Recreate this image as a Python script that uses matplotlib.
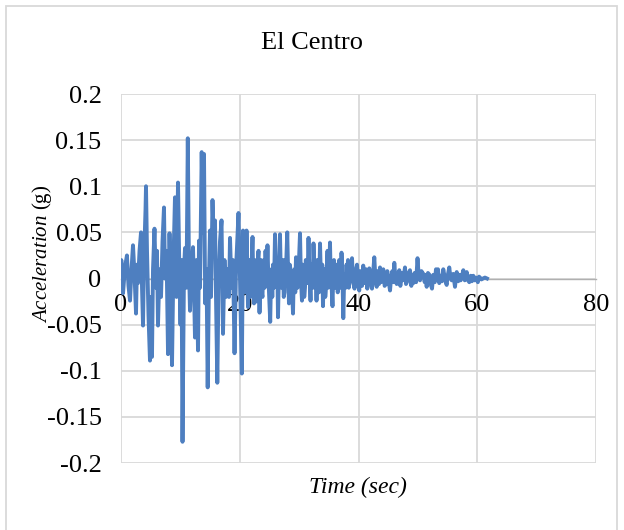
import numpy as np
import matplotlib
matplotlib.use('Agg')
import matplotlib.pyplot as plt
from matplotlib.patches import Rectangle

plt.rcParams['font.family'] = 'Liberation Serif'
plt.rcParams['mathtext.fontset'] = 'custom'
plt.rcParams['mathtext.it'] = 'Liberation Serif:italic'
plt.rcParams['mathtext.rm'] = 'Liberation Serif'

# %% Data (peaks, in three pieces)
# strong shaking, 0-20 s
time_strong = [0.0, 0.05, 0.34, 0.67, 1.0, 1.26, 1.52, 1.77, 2.02, 2.27,
               2.53, 2.69, 2.86, 3.12, 3.37, 3.54, 3.71, 3.87, 4.13, 4.21,
               4.38, 4.63, 4.88, 5.05, 5.22, 5.39, 5.64, 5.89, 6.06, 6.23,
               6.48, 6.74, 6.99, 7.24, 7.41, 7.66, 7.92, 8.17, 8.42, 8.59,
               8.84, 9.09, 9.35, 9.6, 9.85, 10.02, 10.19, 10.36, 10.61, 10.78,
               11.03, 11.25, 11.45, 11.62, 11.87, 12.13, 12.29, 12.46, 12.72, 12.97,
               13.14, 13.31, 13.59, 13.81, 13.98, 14.18, 14.4, 14.6, 14.82, 14.99,
               15.16, 15.41, 15.66, 15.83, 16.0, 16.22, 16.42, 16.67, 16.93, 17.18,
               17.43, 17.68, 17.94, 18.19, 18.36, 18.61, 18.86, 19.12, 19.37, 19.79,
               20.04]
accel_strong = [0.0, 0.02, -0.016, 0.012, 0.025, -0.008, -0.024, 0.01, 0.036, 0.005,
                -0.038, 0.015, -0.005, 0.03, 0.05, -0.01, -0.051, 0.02, 0.075, 0.1,
                0.03, -0.04, -0.089, -0.02, -0.085, 0.01, 0.054, -0.01, 0.03, -0.051,
                0.01, -0.02, 0.04, 0.077, 0.0, 0.03, -0.082, 0.049, -0.03, -0.094,
                0.02, 0.088, -0.02, 0.104, 0.0, -0.05, 0.02, -0.177, 0.01, 0.033,
                -0.01, 0.152, 0.012, -0.035, 0.01, 0.034, -0.01, -0.064, 0.02, -0.078,
                0.041, -0.01, 0.137, 0.05, 0.135, -0.027, 0.01, -0.118, 0.0, 0.052,
                -0.02, 0.085, 0.03, 0.063, -0.02, -0.113, -0.01, 0.04, 0.063, -0.06,
                0.02, -0.02, 0.01, -0.02, 0.044, -0.01, 0.02, -0.081, 0.01, 0.071,
                0.0]
# moderate shaking, 20-40 s
time_mid = [20.35, 20.55, 20.7, 20.85, 21.0, 21.14, 21.3, 21.39, 21.52, 21.64,
            21.78, 21.89, 22.02, 22.15, 22.28, 22.4, 22.52, 22.65, 22.78, 22.91,
            23.04, 23.16, 23.33, 23.46, 23.58, 23.7, 23.83, 23.96, 24.08, 24.2,
            24.34, 24.51, 24.67, 24.8, 24.93, 25.13, 25.25, 25.35, 25.48, 25.6,
            25.77, 25.94, 26.06, 26.19, 26.32, 26.44, 26.61, 26.78, 26.9, 27.03,
            27.15, 27.28, 27.41, 27.54, 27.66, 27.79, 28.0, 28.15, 28.29, 28.42,
            28.55, 28.68, 28.8, 28.97, 29.1, 29.22, 29.35, 29.47, 29.6, 29.73,
            29.86, 29.98, 30.15, 30.3, 30.48, 30.6, 30.74, 30.86, 30.99, 31.12,
            31.24, 31.4, 31.58, 31.75, 31.92, 32.05, 32.17, 32.3, 32.42, 32.55,
            32.67, 32.8, 32.93, 33.05, 33.18, 33.35, 33.52, 33.65, 33.77, 33.9,
            34.02, 34.15, 34.27, 34.4, 34.53, 34.65, 34.78, 34.9, 35.03, 35.2,
            35.32, 35.45, 35.62, 35.75, 35.87, 36.0, 36.13, 36.25, 36.38, 36.5,
            36.63, 36.75, 36.88, 37.0, 37.14, 37.3, 37.44, 37.58, 37.73, 37.85,
            37.98, 38.1, 38.23, 38.36, 38.48, 38.6, 38.74, 38.91, 39.04, 39.16,
            39.33, 39.45, 39.58, 39.75, 39.92]
accel_mid = [-0.103, 0.052, 0.005, 0.03, -0.015, 0.052, 0.0, -0.031, 0.015, 0.02,
             -0.02, -0.01, 0.02, 0.045, -0.005, -0.027, 0.02, 0.01, -0.025, -0.01,
             0.02, 0.03, -0.037, 0.0, 0.02, -0.015, -0.02, 0.015, 0.02, -0.01,
             0.03, 0.0, 0.036, 0.005, -0.015, -0.047, -0.005, 0.01, -0.02, 0.015,
             -0.01, 0.048, 0.01, 0.0, 0.02, -0.042, 0.01, 0.048, 0.01, -0.01,
             0.015, 0.02, -0.02, -0.015, 0.02, 0.01, 0.05, 0.005, -0.027, 0.015,
             0.01, -0.02, -0.01, -0.038, 0.005, 0.01, -0.015, 0.023, 0.01, -0.01,
             0.015, 0.02, 0.049, 0.0, -0.024, 0.015, 0.01, -0.02, -0.01, 0.02,
             0.02, -0.005, 0.044, 0.005, -0.024, 0.015, 0.01, -0.01, 0.038, 0.01,
             -0.01, 0.015, -0.024, 0.02, 0.01, -0.015, 0.038, 0.005, 0.0, 0.015,
             -0.03, 0.01, 0.01, -0.02, -0.01, 0.01, 0.03, -0.01, -0.005, 0.039,
             0.0, -0.005, -0.03, 0.005, 0.02, -0.01, -0.01, 0.015, 0.01, -0.015,
             -0.005, 0.02, 0.015, -0.01, 0.028, 0.0, -0.043, 0.0, 0.005, -0.01,
             0.015, 0.0, 0.02, -0.01, -0.005, 0.015, 0.01, 0.022, 0.0, -0.005,
             -0.011, 0.005, 0.01, 0.015, -0.005]
# tail, 40-62 s
time_tail = [40.13, 40.28, 40.42, 40.6, 40.8, 40.95, 41.09, 41.28, 41.48, 41.65,
             41.82, 42.05, 42.27, 42.45, 42.66, 42.85, 43.06, 43.25, 43.45, 43.62,
             43.8, 44.0, 44.18, 44.4, 44.63, 44.85, 45.1, 45.31, 45.5, 45.7,
             45.88, 46.03, 46.22, 46.43, 46.65, 46.87, 47.05, 47.25, 47.44, 47.65,
             47.83, 48.0, 48.22, 48.45, 48.67, 48.9, 49.1, 49.23, 49.45, 49.7,
             49.94, 50.15, 50.36, 50.6, 50.91, 51.15, 51.3, 51.48, 51.7, 51.95,
             52.15, 52.38, 52.6, 52.85, 53.05, 53.25, 53.39, 53.6, 53.84, 54.05,
             54.28, 54.5, 54.7, 54.85, 55.05, 55.29, 55.5, 55.7, 55.95, 56.25,
             56.54, 56.8, 57.0, 57.21, 57.45, 57.65, 57.9, 58.05, 58.23, 58.45,
             58.66, 58.9, 59.1, 59.33, 59.55, 59.79, 60.1, 60.3, 60.46, 60.7,
             60.97, 61.3, 61.64]
accel_tail = [-0.013, 0.008, 0.005, -0.008, 0.014, -0.005, 0.0, 0.01, -0.011, 0.006,
              0.011, -0.004, -0.011, 0.005, 0.023, 0.0, -0.009, 0.008, -0.006, 0.012,
              -0.004, 0.006, 0.01, -0.008, -0.006, 0.008, -0.004, -0.013, 0.002, 0.008,
              -0.004, 0.017, 0.0, -0.006, 0.004, 0.009, -0.008, 0.006, -0.002, 0.004,
              0.012, -0.006, -0.003, 0.006, 0.009, -0.008, 0.004, -0.005, 0.006, -0.004,
              0.022, 0.002, -0.002, 0.008, 0.005, -0.004, 0.004, -0.009, 0.006, 0.004,
              -0.006, -0.011, 0.004, -0.004, 0.01, 0.002, 0.01, -0.005, 0.003, -0.003,
              0.01, 0.002, -0.004, -0.007, 0.004, 0.012, 0.0, -0.002, 0.005, -0.009,
              0.007, -0.003, 0.004, -0.002, 0.003, 0.009, -0.002, 0.002, 0.007, -0.002,
              -0.004, 0.003, -0.003, 0.003, -0.002, 0.001, -0.004, 0.002, 0.001, -0.001,
              0.0, 0.001, 0.0]

time_s = time_strong + time_mid + time_tail
accel_g = accel_strong + accel_mid + accel_tail

x_ticks = [0, 20, 40, 60, 80]
y_ticks = [-0.2, -0.15, -0.1, -0.05, 0, 0.05, 0.1, 0.15, 0.2]
y_tick_labels = ['-0.2', '-0.15', '-0.1', '-0.05', '0', '0.05', '0.1', '0.15', '0.2']

# %% Plot
fig = plt.figure(figsize=(6.24, 5.30), dpi=100)
ax = fig.add_axes([121 / 624, 1 - 463 / 530, 475 / 624, 369 / 530])

grid_col = '#d9d9d9'
ax.plot(time_s, accel_g, color='#4e7fc0', lw=2.8, zorder=3, solid_joinstyle='round')
ax.set_xlim(0, 80)
ax.set_ylim(-0.2, 0.2)
ax.set_xticks(x_ticks)
ax.set_yticks(y_ticks)
ax.set_yticklabels(y_tick_labels)
ax.grid(True, color=grid_col, lw=1.3)
ax.set_axisbelow(True)
for side in ['top', 'right', 'left']:
    ax.spines[side].set_visible(False)
ax.spines['bottom'].set_position(('data', 0))
ax.spines['bottom'].set_color('#b0b0b0')
ax.spines['bottom'].set_linewidth(1.0)
ax.spines['bottom'].set_zorder(2)
ax.tick_params(axis='both', length=0, labelsize=19)
ax.tick_params(axis='x', pad=11)
ax.tick_params(axis='y', pad=14)

fig.text(312 / 624, 1 - 43 / 530, 'El Centro', ha='center', va='center', fontsize=19)
fig.text(358 / 624, 1 - 487 / 530, 'Time (sec)', ha='center', va='center',
         fontsize=17, style='italic')
fig.text(42 / 624, 1 - 254 / 530, r'$\mathit{Acceleration}$ (g)', ha='center', va='center',
         fontsize=15, rotation=90)

fig.add_artist(Rectangle((6 / 624, -0.01), 611 / 624, 1 - 6 / 530 + 0.01,
                         transform=fig.transFigure, fill=False, ec=grid_col, lw=1.3))

plt.savefig('out.png', dpi=100)
